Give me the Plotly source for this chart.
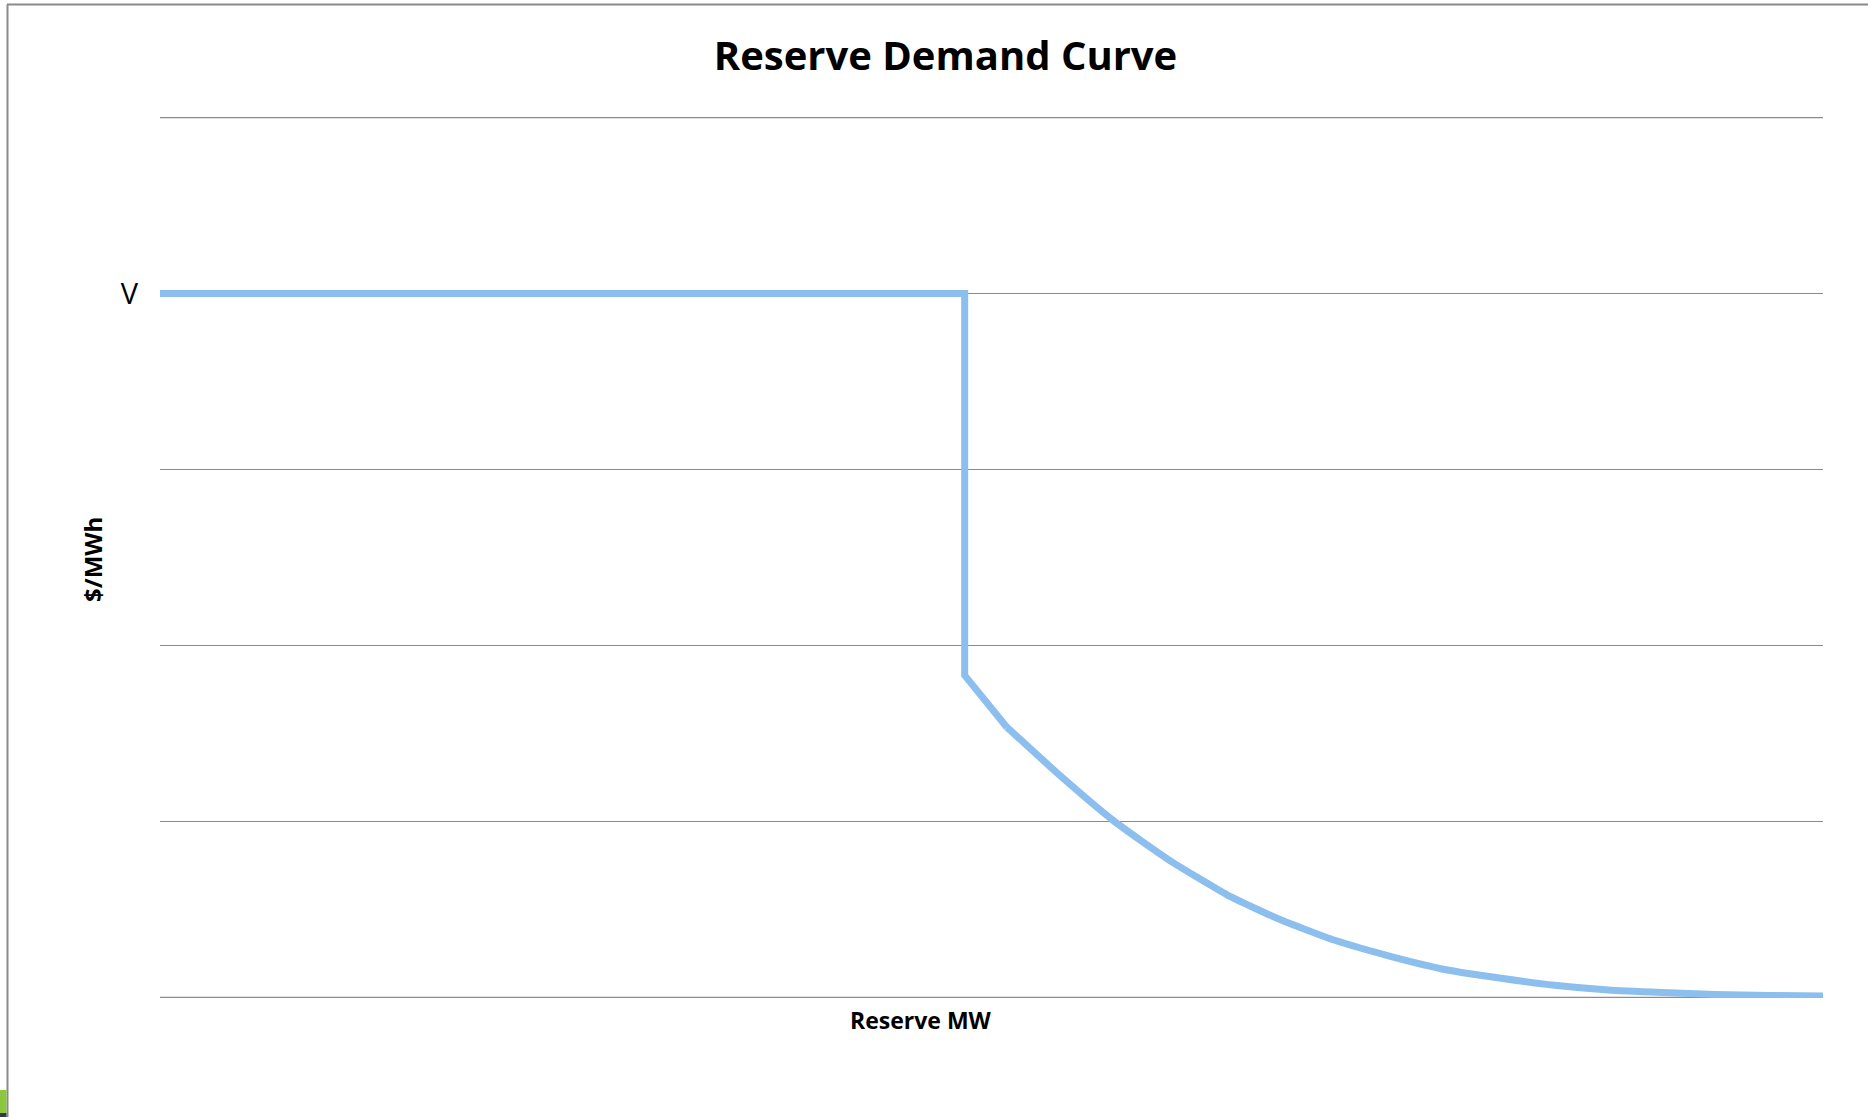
import plotly.graph_objects as go

# Reserve demand curve: flat at V up to the threshold, then a drop and a decaying tail
step_mw = [0.0, 15.0, 15.0, 15.79]
step_price = [4.0, 4.0, 1.83, 1.534]

tail_mw = [15.79, 16.79, 17.79, 18.79, 19.9, 20.9, 21.9, 22.9,
           24.0, 25.0, 26.0, 27.0, 28.0, 29.0, 30.0, 31.0]
tail_price = [1.534, 1.257, 1.0, 0.784, 0.581, 0.439, 0.324, 0.236,
              0.155, 0.108, 0.068, 0.041, 0.027, 0.016, 0.01, 0.008]

y_ticks = [0, 1, 2, 3, 4, 5]
y_tick_text = ["", "", "", "", "V", ""]

W, H = 1868, 1117
L, R, T, B = 160, 45, 117, 119
PW, PH = W - L - R, H - T - B

CURVE = "#8CBFEE"
GRID = "#8C8C8C"

fig = go.Figure()
fig.add_trace(go.Scatter(
    x=step_mw, y=step_price, mode="lines",
    line=dict(color=CURVE, width=7),
    hoverinfo="skip", showlegend=False,
))
fig.add_trace(go.Scatter(
    x=tail_mw, y=tail_price, mode="lines",
    line=dict(color=CURVE, width=7, shape="spline", smoothing=0.5),
    hoverinfo="skip", showlegend=False,
))

# horizontal grid lines at the ends of the value range (plotly skips the edge ones)
edge_grid = [
    dict(type="line", xref="paper", yref="y", x0=0, x1=1, y0=v, y1=v,
         layer="below", line=dict(color=GRID, width=1.3))
    for v in (y_ticks[0], y_ticks[-1])
]

fig.update_layout(
    width=W, height=H,
    margin=dict(l=L, r=R, t=T, b=B),
    paper_bgcolor="white", plot_bgcolor="white",
    font=dict(family="Open Sans, Liberation Sans, sans-serif", color="#000000"),
    title=dict(text="<b>Reserve Demand Curve</b>", x=(714 + 1177) / 2 / W, xanchor="center",
               y=1 - 56 / H, yanchor="middle", font=dict(size=40, color="#000000")),
    xaxis=dict(range=[0, 31], showgrid=False, zeroline=False, showticklabels=False,
               showline=False, ticks=""),
    yaxis=dict(range=[-0.004, 5.004], tickvals=y_ticks, ticktext=y_tick_text,
               showgrid=True, gridcolor=GRID, gridwidth=1.3,
               zeroline=False, showline=False, ticks="",
               tickfont=dict(size=29, color="#000000"), ticklabelstandoff=21),
    annotations=[
        dict(text="<b>Reserve MW</b>", xref="paper", yref="paper",
             x=(921 - L) / PW, y=-(1020 - (H - B)) / PH,
             xanchor="center", yanchor="middle", showarrow=False,
             font=dict(size=23, color="#000000")),
        dict(text="<b>$/MWh</b>", xref="paper", yref="paper",
             x=-(L - 92) / PW, y=(H - B - 560) / PH,
             xanchor="center", yanchor="middle", textangle=-90, showarrow=False,
             font=dict(size=24, color="#000000")),
    ],
    shapes=edge_grid + [
        # slide frame lines along the top and left edges
        dict(type="line", xref="paper", yref="paper",
             x0=-(L - 7) / PW, x1=(W - L) / PW,
             y0=(H - B - 4.5) / PH, y1=(H - B - 4.5) / PH,
             line=dict(color="#8A8A8A", width=2)),
        dict(type="line", xref="paper", yref="paper",
             x0=-(L - 7.5) / PW, x1=-(L - 7.5) / PW,
             y0=(H - B - 4.5) / PH, y1=-B / PH,
             line=dict(color="#8A8A8A", width=2)),
        # green accent at the lower-left corner
        dict(type="rect", xref="paper", yref="paper",
             x0=-L / PW, x1=-(L - 6.5) / PW,
             y0=-(1113 - (H - B)) / PH, y1=-(1090 - (H - B)) / PH,
             fillcolor="#8DC63F", line=dict(width=0)),
        dict(type="rect", xref="paper", yref="paper",
             x0=-L / PW, x1=-(L - 6.5) / PW,
             y0=-B / PH, y1=-(1113 - (H - B)) / PH,
             fillcolor="#3A3A3A", line=dict(width=0)),
    ],
)

fig.write_html("out.html")
